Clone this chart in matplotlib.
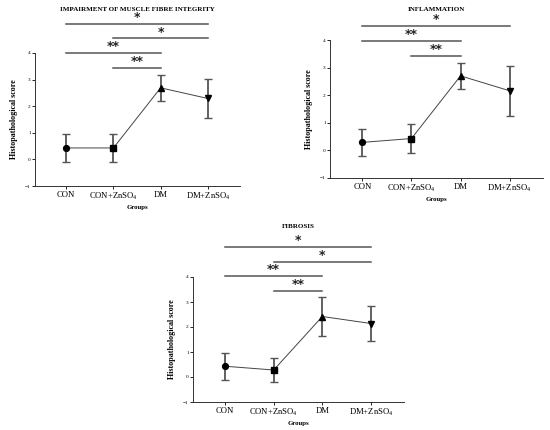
import matplotlib
matplotlib.use("Agg")
import matplotlib.pyplot as plt

plt.rcParams['font.family'] = ['Liberation Serif', 'DejaVu Serif']
plt.rcParams['mathtext.fontset'] = 'custom'
plt.rcParams['mathtext.rm'] = 'Liberation Serif'
plt.rcParams['mathtext.it'] = 'Liberation Serif:italic'
plt.rcParams['mathtext.bf'] = 'Liberation Serif:bold'

groups = ['CON', 'CON+ZnSO$_4$', 'DM', 'DM+ZnSO$_4$']
markers = ['o', 's', '^', 'v']

titles = ['IMPAIRMENT OF MUSCLE FIBRE INTEGRITY', 'INFLAMMATION', 'FIBROSIS']

muscle_mean = [0.43, 0.43, 2.69, 2.29]
muscle_sd = [0.53, 0.53, 0.50, 0.75]
inflam_mean = [0.29, 0.43, 2.70, 2.16]
inflam_sd = [0.49, 0.53, 0.48, 0.90]
fibro_mean = [0.43, 0.28, 2.42, 2.14]
fibro_sd = [0.53, 0.49, 0.79, 0.69]

# significance brackets: (start group, end group, label, y level)
muscle_sig = [(1, 2, '**', 3.45), (0, 2, '**', 4.0), (1, 3, '*', 4.55), (0, 3, '*', 5.1)]
inflam_sig = [(1, 2, '**', 3.43), (0, 2, '**', 3.97), (0, 3, '*', 4.52)]
fibro_sig = [(1, 2, '**', 3.44), (0, 2, '**', 4.03), (1, 3, '*', 4.6), (0, 3, '*', 5.2)]

# layout: axes box in pixels (left, top, right, bottom) and title centre y in pixels
panels = [
    (titles[0], muscle_mean, muscle_sd, muscle_sig, [35, 53, 240, 186], 9.5),
    (titles[1], inflam_mean, inflam_sd, inflam_sig, [330, 40, 543, 178], 9.5),
    (titles[2], fibro_mean, fibro_sd, fibro_sig, [193, 277, 404, 402], 226),
]

W, H = 550, 430
fig = plt.figure(figsize=(W / 100, H / 100), dpi=100)

for title, mean, sd, sig, (l, t, r, b), ty in panels:
    ax = fig.add_axes([l / W, (H - b) / H, (r - l) / W, (b - t) / H])
    x = list(range(len(groups)))
    ax.plot(x, mean, color='#444444', lw=0.7, zorder=2)
    ax.errorbar(x, mean, yerr=sd, fmt='none', ecolor='#555555', elinewidth=1.3,
                capsize=3.2, capthick=1.0, zorder=3)
    for xi, yi, m in zip(x, mean, markers):
        ax.plot(xi, yi, marker=m, color='black', ms=4.2 if m != 's' else 4.0,
                linestyle='none', zorder=4)
    ax.set_xlim(-0.66, 3.68)
    ax.set_ylim(-1, 4)
    ax.set_yticks([-1, 0, 1, 2, 3, 4])
    ax.set_xticks(x)
    ax.set_xticklabels(groups, fontsize=6.2)
    ax.tick_params(axis='y', labelsize=3.8, length=2, width=0.6, pad=1)
    ax.tick_params(axis='x', length=2, width=0.6, pad=1.5)
    for s in ['top', 'right']:
        ax.spines[s].set_visible(False)
    for s in ['left', 'bottom']:
        ax.spines[s].set_linewidth(0.7)
        ax.spines[s].set_color('#333333')
    ax.set_ylabel('Histopathological score', fontsize=5.8, fontweight='bold', labelpad=5)
    ax.set_xlabel('Groups', fontsize=4.9, fontweight='bold', labelpad=2)
    for g0, g1, lab, yv in sig:
        ax.plot([g0, g1], [yv, yv], color='#555555', lw=1.1, clip_on=False, zorder=5)
        ax.annotate(lab, xy=((g0 + g1) / 2, yv), xytext=(0, 4.5), textcoords='offset points',
                    ha='center', va='center', fontsize=9, fontweight='bold',
                    family='DejaVu Sans', annotation_clip=False, color='#222222')
    fig.text((l + r) / 2 / W, (H - ty) / H, title, ha='center', va='center',
             fontsize=5.0, fontweight='bold')

fig.savefig('out.png', dpi=100)
